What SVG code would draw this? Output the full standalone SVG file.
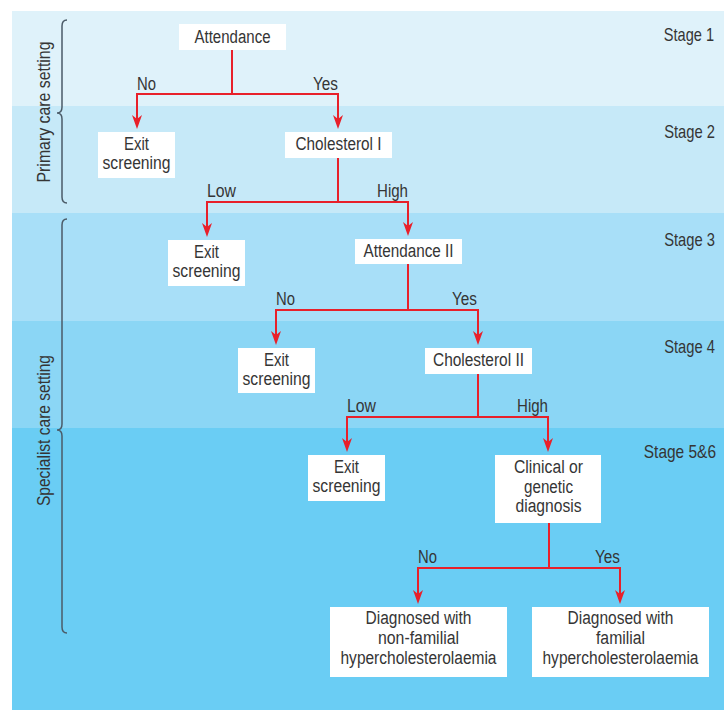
<svg xmlns="http://www.w3.org/2000/svg" width="724" height="710" viewBox="0 0 724 710">
<style>
text{font-family:"Liberation Sans",Arial,sans-serif;font-size:18px;fill:#353535}
.c{text-anchor:middle}
.e{text-anchor:end}
.box{fill:#ffffff}
.conn{fill:none;stroke:#e8202a;stroke-width:2}
.brace{fill:none;stroke:#4b5b68;stroke-width:1.5}
</style>
<defs>
<marker id="ah" markerUnits="userSpaceOnUse" markerWidth="14" markerHeight="10" viewBox="0 -5 14 10" refX="8" refY="0" orient="auto">
<path d="M0,-5 L14,0 L0,5 L4,0 Z" fill="#e8202a"/>
</marker>
</defs>
<rect width="724" height="710" fill="#ffffff"/>
<g id="bands">
<rect x="12" y="11" width="712" height="95" fill="#dff2fa"/>
<rect x="12" y="106" width="712" height="107" fill="#c6e9f8"/>
<rect x="12" y="213" width="712" height="108" fill="#a8dff8"/>
<rect x="12" y="321" width="712" height="107" fill="#8bd6f5"/>
<rect x="12" y="428" width="712" height="282" fill="#6acdf4"/>
</g>
<g id="stages">
<text class="e" transform="translate(714,41) scale(0.81,1)" x="0" y="0">Stage 1</text>
<text class="e" transform="translate(715,138) scale(0.82,1)" x="0" y="0">Stage 2</text>
<text class="e" transform="translate(715,246) scale(0.82,1)" x="0" y="0">Stage 3</text>
<text class="e" transform="translate(715,353) scale(0.82,1)" x="0" y="0">Stage 4</text>
<text class="e" transform="translate(716,458) scale(0.86,1)" x="0" y="0">Stage 5&amp;6</text>
</g>
<g id="settings">
<path class="brace" d="M67,20 Q62,20 62,26 L62,107 Q62,113 57,113 Q62,113 62,119 L62,197 Q62,203 67,203"/>
<text transform="translate(50,112) rotate(-90)" class="c" x="0" y="0" textLength="141" lengthAdjust="spacingAndGlyphs">Primary care setting</text>
<path class="brace" d="M67,219 Q62,219 62,225 L62,424 Q62,430 57,430 Q62,430 62,436 L62,627 Q62,633 67,633"/>
<text transform="translate(50,430.5) rotate(-90)" class="c" x="0" y="0" textLength="151" lengthAdjust="spacingAndGlyphs">Specialist care setting</text>
</g>
<g id="connectors">
<path class="conn" d="M232,50 V94 H137 V123" marker-end="url(#ah)"/>
<path class="conn" d="M232,50 V94 H338 V123" marker-end="url(#ah)"/>
<path class="conn" d="M338,158 V202 H207 V231" marker-end="url(#ah)"/>
<path class="conn" d="M338,158 V202 H408 V230" marker-end="url(#ah)"/>
<path class="conn" d="M408,264 V310 H276 V339" marker-end="url(#ah)"/>
<path class="conn" d="M408,264 V310 H478 V339" marker-end="url(#ah)"/>
<path class="conn" d="M478,374 V417 H347 V446" marker-end="url(#ah)"/>
<path class="conn" d="M478,374 V417 H548 V446" marker-end="url(#ah)"/>
<path class="conn" d="M549,523 V568 H418 V598" marker-end="url(#ah)"/>
<path class="conn" d="M549,523 V568 H620 V598" marker-end="url(#ah)"/>
<text x="137" y="90" textLength="19" lengthAdjust="spacingAndGlyphs">No</text>
<text x="313" y="90" textLength="25" lengthAdjust="spacingAndGlyphs">Yes</text>
<text x="207" y="197" textLength="29" lengthAdjust="spacingAndGlyphs">Low</text>
<text x="377" y="197" textLength="31" lengthAdjust="spacingAndGlyphs">High</text>
<text x="276" y="305" textLength="19" lengthAdjust="spacingAndGlyphs">No</text>
<text x="452" y="305" textLength="25" lengthAdjust="spacingAndGlyphs">Yes</text>
<text x="347" y="412" textLength="29" lengthAdjust="spacingAndGlyphs">Low</text>
<text x="517" y="412" textLength="31" lengthAdjust="spacingAndGlyphs">High</text>
<text x="418" y="563" textLength="19" lengthAdjust="spacingAndGlyphs">No</text>
<text x="595" y="563" textLength="25" lengthAdjust="spacingAndGlyphs">Yes</text>
</g>
<g id="attendance">
<rect class="box" x="179" y="24" width="107" height="26"/>
<text class="c" x="232.5" y="43" textLength="76" lengthAdjust="spacingAndGlyphs">Attendance</text>
</g>
<g id="exit1">
<rect class="box" x="98" y="132" width="77" height="46"/>
<text class="c" x="136.5" y="150" textLength="25" lengthAdjust="spacingAndGlyphs">Exit</text>
<text class="c" x="136.5" y="169" textLength="68" lengthAdjust="spacingAndGlyphs">screening</text>
</g>
<g id="cholesterol1">
<rect class="box" x="285" y="132" width="107" height="26"/>
<text class="c" x="338.5" y="150" textLength="86" lengthAdjust="spacingAndGlyphs">Cholesterol I</text>
</g>
<g id="exit2">
<rect class="box" x="168" y="240" width="77" height="46"/>
<text class="c" x="206.5" y="258" textLength="25" lengthAdjust="spacingAndGlyphs">Exit</text>
<text class="c" x="206.5" y="277" textLength="68" lengthAdjust="spacingAndGlyphs">screening</text>
</g>
<g id="attendance2">
<rect class="box" x="355" y="239" width="107" height="25"/>
<text class="c" x="408.5" y="257" textLength="90" lengthAdjust="spacingAndGlyphs">Attendance II</text>
</g>
<g id="exit3">
<rect class="box" x="238" y="348" width="77" height="45"/>
<text class="c" x="276.5" y="366" textLength="25" lengthAdjust="spacingAndGlyphs">Exit</text>
<text class="c" x="276.5" y="385" textLength="68" lengthAdjust="spacingAndGlyphs">screening</text>
</g>
<g id="cholesterol2">
<rect class="box" x="425" y="348" width="107" height="26"/>
<text class="c" x="478.5" y="366" textLength="91" lengthAdjust="spacingAndGlyphs">Cholesterol II</text>
</g>
<g id="exit4">
<rect class="box" x="308" y="455" width="77" height="46"/>
<text class="c" x="346.5" y="473" textLength="25" lengthAdjust="spacingAndGlyphs">Exit</text>
<text class="c" x="346.5" y="492" textLength="68" lengthAdjust="spacingAndGlyphs">screening</text>
</g>
<g id="diagnosis">
<rect class="box" x="495" y="455" width="106" height="68"/>
<text class="c" x="548.5" y="473" textLength="69" lengthAdjust="spacingAndGlyphs">Clinical or</text>
<text class="c" x="548.5" y="493" textLength="49" lengthAdjust="spacingAndGlyphs">genetic</text>
<text class="c" x="548.5" y="512" textLength="66" lengthAdjust="spacingAndGlyphs">diagnosis</text>
</g>
<g id="nonfamilial">
<rect class="box" x="330" y="607" width="177" height="70"/>
<text class="c" x="418.5" y="624" textLength="106" lengthAdjust="spacingAndGlyphs">Diagnosed with</text>
<text class="c" x="418.5" y="644" textLength="81" lengthAdjust="spacingAndGlyphs">non-familial</text>
<text class="c" x="418.5" y="664" textLength="156" lengthAdjust="spacingAndGlyphs">hypercholesterolaemia</text>
</g>
<g id="familial">
<rect class="box" x="532" y="607" width="177" height="70"/>
<text class="c" x="620.5" y="624" textLength="106" lengthAdjust="spacingAndGlyphs">Diagnosed with</text>
<text class="c" x="620.5" y="644" textLength="49" lengthAdjust="spacingAndGlyphs">familial</text>
<text class="c" x="620.5" y="664" textLength="156" lengthAdjust="spacingAndGlyphs">hypercholesterolaemia</text>
</g>
</svg>
